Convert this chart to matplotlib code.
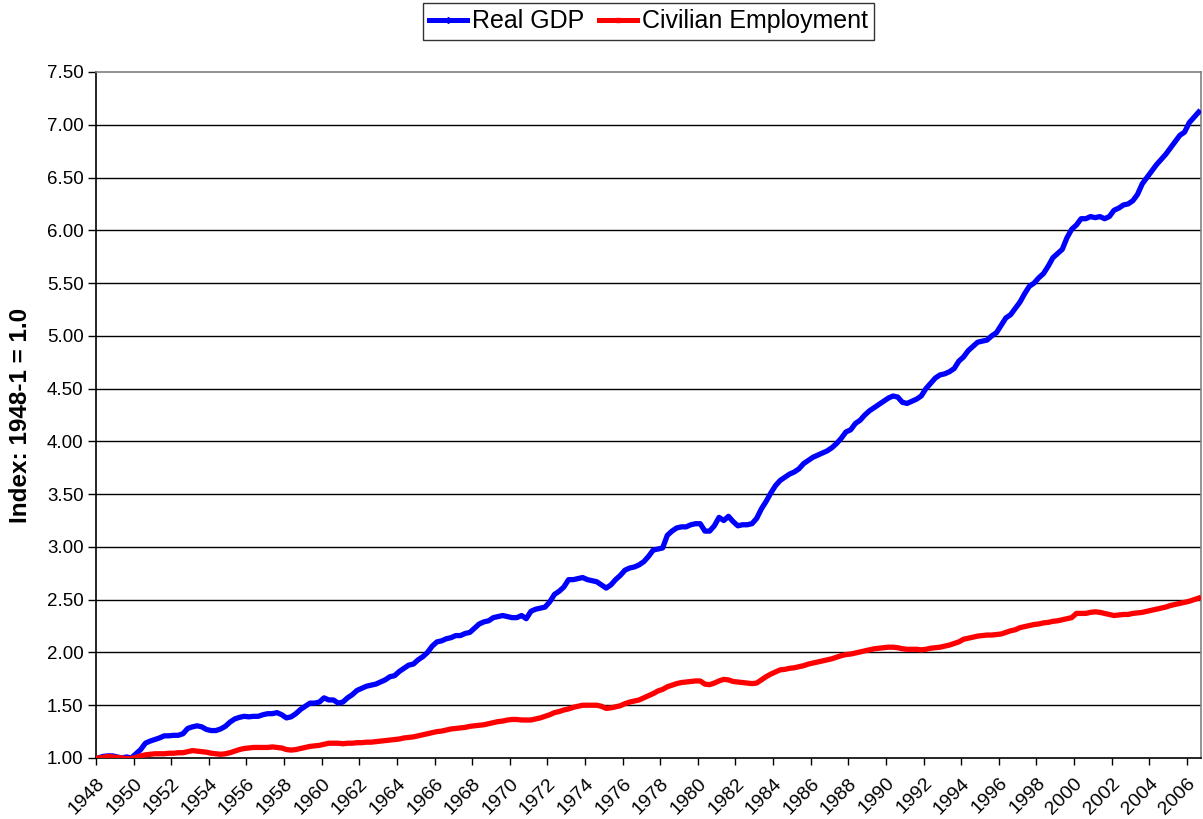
import matplotlib
matplotlib.use("Agg")
import matplotlib.pyplot as plt
from matplotlib.lines import Line2D
import numpy as np

plt.rcParams['font.family'] = ['Liberation Sans', 'DejaVu Sans']

# Quarterly data, 1948Q1 .. 2006Q3 (index: 1948-1 = 1.0)
start_year = 1948
real_gdp = [
    1.00, 1.015, 1.02, 1.02,      # 1948
    1.01, 1.00, 1.01, 1.00,       # 1949
    1.04, 1.08, 1.14, 1.16,       # 1950
    1.175, 1.19, 1.21, 1.21,      # 1951
    1.215, 1.215, 1.23, 1.28,     # 1952
    1.295, 1.305, 1.295, 1.27,    # 1953
    1.26, 1.26, 1.275, 1.30,      # 1954
    1.34, 1.37, 1.385, 1.395,     # 1955
    1.39, 1.395, 1.395, 1.41,     # 1956
    1.42, 1.42, 1.43, 1.41,       # 1957
    1.38, 1.39, 1.42, 1.46,       # 1958
    1.49, 1.52, 1.52, 1.53,       # 1959
    1.57, 1.55, 1.55, 1.52,       # 1960
    1.53, 1.57, 1.60, 1.64,       # 1961
    1.66, 1.68, 1.69, 1.70,       # 1962
    1.72, 1.74, 1.77, 1.78,       # 1963
    1.82, 1.85, 1.88, 1.89,       # 1964
    1.93, 1.96, 2.00, 2.06,       # 1965
    2.10, 2.11, 2.13, 2.14,       # 1966
    2.16, 2.16, 2.18, 2.19,       # 1967
    2.23, 2.27, 2.29, 2.30,       # 1968
    2.33, 2.34, 2.35, 2.34,       # 1969
    2.33, 2.33, 2.35, 2.32,       # 1970
    2.39, 2.41, 2.42, 2.43,       # 1971
    2.48, 2.55, 2.58, 2.62,       # 1972
    2.69, 2.69, 2.70, 2.71,       # 1973
    2.69, 2.68, 2.67, 2.64,       # 1974
    2.61, 2.64, 2.69, 2.73,       # 1975
    2.78, 2.80, 2.81, 2.83,       # 1976
    2.86, 2.91, 2.97, 2.98,       # 1977
    2.99, 3.11, 3.15, 3.18,       # 1978
    3.19, 3.19, 3.21, 3.22,       # 1979
    3.22, 3.15, 3.15, 3.20,       # 1980
    3.28, 3.25, 3.29, 3.24,       # 1981
    3.20, 3.21, 3.21, 3.22,       # 1982
    3.27, 3.36, 3.43, 3.51,       # 1983
    3.58, 3.63, 3.66, 3.69,       # 1984
    3.71, 3.74, 3.79, 3.82,       # 1985
    3.85, 3.87, 3.89, 3.91,       # 1986
    3.94, 3.98, 4.03, 4.09,       # 1987
    4.11, 4.17, 4.20, 4.25,       # 1988
    4.29, 4.32, 4.35, 4.38,       # 1989
    4.41, 4.43, 4.42, 4.37,       # 1990
    4.36, 4.38, 4.40, 4.43,       # 1991
    4.50, 4.55, 4.60, 4.63,       # 1992
    4.64, 4.66, 4.69, 4.76,       # 1993
    4.80, 4.86, 4.90, 4.94,       # 1994
    4.95, 4.96, 5.00, 5.03,       # 1995
    5.10, 5.17, 5.20, 5.26,       # 1996
    5.32, 5.40, 5.47, 5.50,       # 1997
    5.55, 5.59, 5.66, 5.74,       # 1998
    5.78, 5.82, 5.93, 6.01,       # 1999
    6.05, 6.11, 6.11, 6.13,       # 2000
    6.12, 6.13, 6.11, 6.13,       # 2001
    6.19, 6.21, 6.24, 6.25,       # 2002
    6.28, 6.34, 6.44, 6.50,       # 2003
    6.56, 6.62, 6.67, 6.72,       # 2004
    6.78, 6.84, 6.90, 6.93,       # 2005
    7.02, 7.07, 7.12,             # 2006
]

civilian_employment = [
    1.00, 1.005, 1.015, 1.01,     # 1948
    1.005, 1.00, 0.995, 0.995,    # 1949
    1.005, 1.02, 1.03, 1.035,     # 1950
    1.04, 1.04, 1.04, 1.045,      # 1951
    1.045, 1.05, 1.05, 1.06,      # 1952
    1.07, 1.065, 1.06, 1.055,     # 1953
    1.045, 1.04, 1.035, 1.04,     # 1954
    1.05, 1.065, 1.08, 1.09,      # 1955
    1.095, 1.10, 1.10, 1.10,      # 1956
    1.10, 1.105, 1.10, 1.095,     # 1957
    1.08, 1.075, 1.08, 1.09,      # 1958
    1.10, 1.11, 1.115, 1.12,      # 1959
    1.13, 1.14, 1.14, 1.14,       # 1960
    1.135, 1.14, 1.14, 1.145,     # 1961
    1.145, 1.15, 1.15, 1.155,     # 1962
    1.16, 1.165, 1.17, 1.175,     # 1963
    1.18, 1.19, 1.195, 1.20,      # 1964
    1.21, 1.22, 1.23, 1.24,       # 1965
    1.25, 1.255, 1.265, 1.275,    # 1966
    1.28, 1.285, 1.29, 1.30,      # 1967
    1.305, 1.31, 1.315, 1.325,    # 1968
    1.335, 1.345, 1.35, 1.36,     # 1969
    1.365, 1.365, 1.36, 1.36,     # 1970
    1.36, 1.37, 1.38, 1.395,      # 1971
    1.41, 1.43, 1.44, 1.455,      # 1972
    1.465, 1.48, 1.49, 1.50,      # 1973
    1.50, 1.50, 1.50, 1.49,       # 1974
    1.47, 1.475, 1.485, 1.495,    # 1975
    1.515, 1.53, 1.54, 1.55,      # 1976
    1.57, 1.59, 1.61, 1.635,      # 1977
    1.65, 1.675, 1.69, 1.705,     # 1978
    1.715, 1.72, 1.725, 1.73,     # 1979
    1.73, 1.70, 1.695, 1.71,      # 1980
    1.73, 1.745, 1.74, 1.725,     # 1981
    1.72, 1.715, 1.71, 1.705,     # 1982
    1.71, 1.74, 1.77, 1.795,      # 1983
    1.815, 1.835, 1.84, 1.85,     # 1984
    1.855, 1.865, 1.875, 1.89,    # 1985
    1.90, 1.91, 1.92, 1.93,       # 1986
    1.94, 1.955, 1.97, 1.98,      # 1987
    1.985, 1.995, 2.005, 2.015,   # 1988
    2.025, 2.035, 2.04, 2.045,    # 1989
    2.05, 2.05, 2.045, 2.035,     # 1990
    2.03, 2.03, 2.03, 2.025,      # 1991
    2.03, 2.04, 2.045, 2.05,      # 1992
    2.06, 2.07, 2.085, 2.10,      # 1993
    2.125, 2.135, 2.145, 2.155,   # 1994
    2.16, 2.165, 2.165, 2.17,     # 1995
    2.175, 2.19, 2.205, 2.215,    # 1996
    2.235, 2.245, 2.255, 2.265,   # 1997
    2.27, 2.28, 2.285, 2.295,     # 1998
    2.30, 2.31, 2.32, 2.33,       # 1999
    2.37, 2.37, 2.37, 2.38,       # 2000
    2.385, 2.38, 2.37, 2.36,      # 2001
    2.35, 2.355, 2.36, 2.36,      # 2002
    2.37, 2.375, 2.38, 2.39,      # 2003
    2.40, 2.41, 2.42, 2.43,       # 2004
    2.445, 2.455, 2.465, 2.475,   # 2005
    2.485, 2.50, 2.515,           # 2006
]

year_labels = [str(y) for y in range(1948, 2007, 2)]
y_ticks = [1.0 + 0.5 * k for k in range(14)]

n = len(real_gdp)
x = np.arange(n)

fig = plt.figure(figsize=(12.03, 8.19), dpi=100)
ax = fig.add_axes([96 / 1203, 61 / 819, (1201 - 96) / 1203, (758 - 72) / 819])

ax.plot(x, real_gdp, color='#0000FF', lw=3.8, solid_joinstyle='round', zorder=3)
ax.plot(x, civilian_employment, color='#FF0000', lw=3.8, solid_joinstyle='round', zorder=4)

ax.set_xlim(-0.5, n - 0.5)
ax.set_ylim(1.0, 7.5)
ax.set_yticks(y_ticks)
ax.set_yticklabels(['%.2f' % v for v in y_ticks], fontsize=13.5)

xt = [-0.5 + 8 * k for k in range(len(year_labels))]
ax.set_xticks(xt)
ax.set_xticklabels(year_labels, fontsize=14, rotation=45, ha='right',
                   va='top', rotation_mode='anchor')
ax.tick_params(axis='x', length=5, width=1, color='black', pad=7)
ax.tick_params(axis='y', length=6, width=1, color='black', pad=3)

for v in y_ticks[1:-1]:
    ax.axhline(v, color='black', lw=1.0, zorder=1)

ax.spines['left'].set_color('black')
ax.spines['bottom'].set_color('black')
ax.spines['top'].set_color('#808080')
ax.spines['right'].set_color('#808080')
for s in ax.spines.values():
    s.set_linewidth(1.2)

ax.set_ylabel('Index: 1948-1 = 1.0', fontsize=17.5, fontweight='bold')
ax.yaxis.set_label_coords(-64 / 1105, 0.5)

handles = [
    Line2D([], [], color='#0000FF', lw=3.6, marker='D', markersize=3),
    Line2D([], [], color='#FF0000', lw=3.6, marker='s', markersize=3.5),
]
leg = fig.legend(handles, ['Real GDP', 'Civilian Employment'], loc='upper center',
                 bbox_to_anchor=(648.5 / 1203, 1 - 3 / 819), ncol=2, fontsize=18,
                 frameon=True, fancybox=False, edgecolor='black', handlelength=1.5,
                 handletextpad=0.2, columnspacing=0.6, borderpad=0.25,
                 borderaxespad=0)
leg.get_frame().set_linewidth(1.0)

fig.savefig('out.png', dpi=100)
